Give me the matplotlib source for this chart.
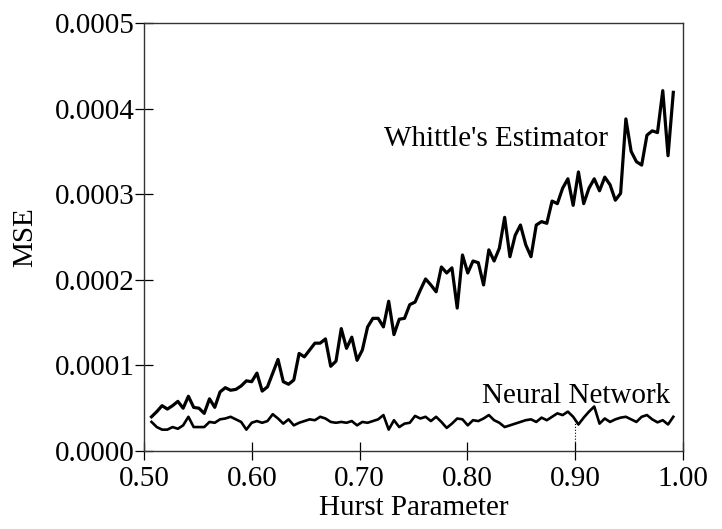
import matplotlib.pyplot as plt
import numpy as np
from matplotlib.ticker import FormatStrFormatter

# MSE values, in units of 1e-4
whittle = [0.40, 0.46, 0.53, 0.49, 0.53, 0.58, 0.50, 0.64, 0.51, 0.50,
           0.44, 0.61, 0.51, 0.69, 0.74, 0.71, 0.72, 0.76, 0.82, 0.81,
           0.91, 0.70, 0.75, 0.91, 1.07,
           0.81, 0.78, 0.83, 1.14, 1.10, 1.18, 1.26, 1.26, 1.31, 0.99,
           1.05, 1.43, 1.20, 1.33, 1.06, 1.18, 1.45, 1.55, 1.55, 1.45,
           1.75, 1.36, 1.54, 1.55, 1.71, 1.74,
           1.88, 2.01, 1.94, 1.86, 2.15, 2.08, 2.14, 1.67, 2.29, 2.08,
           2.22, 2.20, 1.94, 2.35, 2.22, 2.37, 2.73, 2.27, 2.52, 2.64,
           2.41, 2.27, 2.64, 2.68, 2.66,
           2.92, 2.89, 3.07, 3.18, 2.87, 3.26, 2.89, 3.07, 3.18, 3.04,
           3.20, 3.11, 2.93, 3.01, 3.88, 3.50, 3.38, 3.34, 3.69, 3.74,
           3.72, 4.21, 3.45, 4.19]

neural = [0.34, 0.28, 0.25, 0.25, 0.28, 0.26, 0.30, 0.40, 0.28, 0.28,
          0.28, 0.34, 0.33, 0.37, 0.38, 0.40, 0.37, 0.34, 0.25, 0.33,
          0.35, 0.33, 0.35, 0.43, 0.38,
          0.32, 0.37, 0.30, 0.33, 0.35, 0.37, 0.36, 0.40, 0.38, 0.34,
          0.33, 0.34, 0.33, 0.35, 0.30, 0.34, 0.33, 0.35, 0.37, 0.42,
          0.25, 0.36, 0.28, 0.32, 0.33, 0.41, 0.38, 0.40, 0.35, 0.40,
          0.34, 0.27, 0.32, 0.38, 0.37, 0.30, 0.36, 0.35, 0.38, 0.42,
          0.36, 0.33, 0.28, 0.30, 0.32, 0.34, 0.36, 0.37, 0.34, 0.39,
          0.36, 0.40, 0.44, 0.42, 0.46, 0.40, 0.31, 0.39, 0.46, 0.52,
          0.32, 0.38, 0.34, 0.37, 0.39, 0.40, 0.37, 0.34, 0.40, 0.42,
          0.37, 0.335, 0.36, 0.31, 0.40]

h_start, h_end = 0.507, 0.991
x_ticks = [0.50, 0.60, 0.70, 0.80, 0.90, 1.00]
y_ticks = [0.0, 0.0001, 0.0002, 0.0003, 0.0004, 0.0005]

plt.rcParams['font.family'] = ['Liberation Serif', 'DejaVu Serif']

fig = plt.figure(figsize=(7.22, 5.29), dpi=100)
ax = fig.add_axes([0.1994, 0.1474, 0.7466, 0.8091])

hw = np.linspace(h_start, h_end, len(whittle))
hn = np.linspace(h_start, h_end, len(neural))
ax.plot(hw, np.array(whittle) * 1e-4, color='black', lw=2.3)
ax.plot(hn, np.array(neural) * 1e-4, color='black', lw=1.9)
# small dotted guide at H = 0.90
ax.plot([0.90, 0.90], [0.0, 0.000036], color='black', lw=0.8, ls=':')

ax.text(0.930, 0.000356, "Whittle's Estimator", fontsize=21, ha='right', va='baseline')
ax.text(0.988, 0.000056, "Neural Network", fontsize=21, ha='right', va='baseline')

ax.set_xlim(0.5, 1.0)
ax.set_ylim(0, 0.0005)
ax.set_xticks(x_ticks)
ax.set_yticks(y_ticks)
ax.xaxis.set_major_formatter(FormatStrFormatter('%.2f'))
ax.yaxis.set_major_formatter(FormatStrFormatter('%.4f'))
ax.tick_params(direction='inout', length=13.5, width=0.9, labelsize=21)
ax.tick_params(axis='x', pad=4)
ax.tick_params(axis='y', pad=0)
for s in ax.spines.values():
    s.set_linewidth(1.0)
    s.set_color('#333333')

ax.set_xlabel('Hurst Parameter', fontsize=21, labelpad=2)
ax.set_ylabel('MSE', fontsize=21, labelpad=12)

fig.savefig('out.png', dpi=100)
